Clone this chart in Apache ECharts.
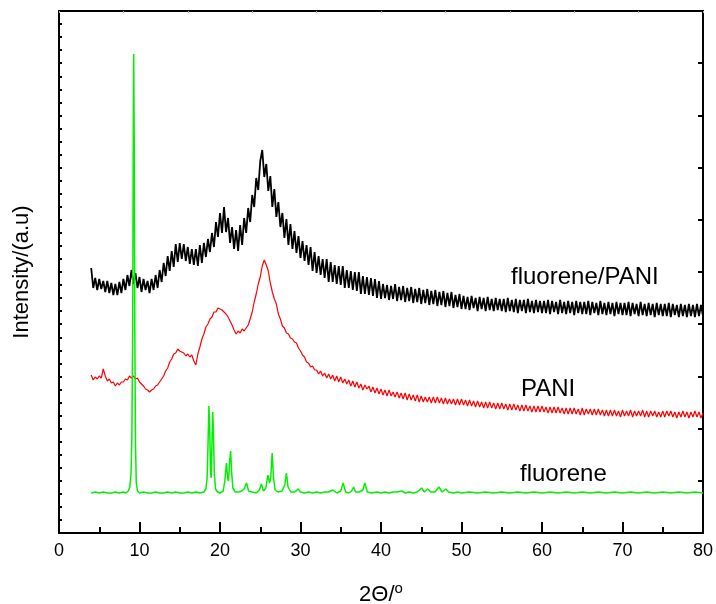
<!DOCTYPE html>
<html><head><meta charset="utf-8">
<script src="https://cdn.jsdelivr.net/npm/echarts@6/dist/echarts.min.js"></script>
<style>html,body{margin:0;padding:0;background:#fff}#c{width:716px;height:604px}</style>
</head><body><div id="c"></div>
<script>
// Sampling grid of the two noisy scans (degrees 2θ), 4 samples per degree
const X_START = 4, X_STEP = 0.25;

// fluorene/PANI composite (arbitrary intensity units), one row per degree
const compositeValues = [
265,245,255,243, 254,244,252,241, 252,240,250,238, 249,238,251,240, 254,243,258,247,
263,249,260,245, 256,241,254,243, 252,240,254,243, 258,245,263,251, 270,257,277,262,
282,266,289,271, 290,274,289,272, 286,269,284,268, 284,267,288,270, 290,276,294,281,
300,286,311,296, 320,300,326,301, 315,290,306,284, 303,282,308,288, 315,300,325,311,
338,326,355,343, 372,383,356,369, 342,357,326,344, 316,331,306,320, 295,314,288,309,
284,302,280,297, 275,292,272,288, 268,286,262,281, 260,277,258,274, 255,274,251,271,
251,268,249,267, 248,267,245,263, 245,262,243,261, 242,261,239,257, 239,256,238,255,
237,254,235,252, 234,249,235,248, 233,247,234,249, 232,246,233,247, 231,245,232,246,
230,244,231,245, 229,243,230,244, 228,242,229,243, 227,241,228,242, 226,240,227,241,
225,238,226,239, 224,237,224,236, 223,237,225,235, 222,236,224,235, 222,236,223,234,
222,235,223,234, 222,234,221,235, 222,233,221,234, 220,233,222,233, 220,234,221,232,
220,233,221,232, 220,232,220,233, 219,232,221,231, 219,233,220,231, 219,232,220,231,
218,232,220,231, 219,231,219,232, 218,231,220,230, 218,232,219,230, 218,231,219,230,
217,231,219,230, 218,230,218,231, 217,230,219,229, 217,231,218,229, 217,230,218,229,
216,230,218,229, 217,229,217,230, 216,229,218,228, 216,229,217,228, 216,229,217,228,
216,229,217,228, 217
];

// PANI, one row per degree
const paniValues = [
158,153,156,154, 157,155,164,157, 152,154,150,151, 147,150,148,151, 151,154,153,157,
155,157,154,155, 151,149,147,144, 143,141,143,144, 147,148,151,154, 157,162,165,171,
174,179,180,184, 182,181,180,177, 179,176,178,172, 168,179,186,194, 199,206,209,214,
216,221,221,225, 224,223,221,219, 216,212,208,203, 199,202,200,204, 202,205,208,214,
221,231,239,249, 256,267,273,268, 262,250,241,234, 229,219,214,207, 205,200,199,195,
194,191,190,185, 182,178,176,171, 170,166,167,163, 163,159,162,157, 160,155,159,154,
158,152,157,151, 156,150,154,149, 153,147,152,146, 151,145,149,143, 148,144,147,141,
146,140,145,139, 144,138,143,137, 143,137,141,136, 141,135,140,134, 140,133,139,133,
138,132,138,131, 137,131,136,131, 136,130,136,130, 136,130,135,129, 135,129,134,129,
134,128,134,128, 134,128,133,127, 133,127,132,126, 132,126,131,125, 131,125,131,125,
130,124,130,124, 130,124,129,123, 129,123,129,123, 128,122,128,122, 128,122,127,121,
127,121,127,121, 127,121,126,120, 126,120,126,120, 126,120,125,119, 125,119,125,119,
125,119,124,118, 125,118,124,119, 124,118,124,118, 124,118,123,117, 123,117,123,117,
123,117,122,116, 123,117,122,117, 123,116,122,117, 122,117,123,116, 122,116,122,117,
122,116,121,116, 122,116,122,117, 122,116,121,115, 121,116,122,116, 121,115,121,116,
122,116,121,115, 120
];

// fluorene (2θ, intensity)
const fluoreneData = [
[4,40],[4.5,41],[5,40],[5.5,41],[6,40],[6.5,40],[7,41],[7.5,40],[8,41],[8.3,40],[8.6,42],[8.8,46],[8.95,60],[9.05,95],[9.15,200],[9.22,380],[9.28,479],[9.34,400],[9.42,200],[9.5,90],[9.6,50],[9.75,42],
[10,40],[10.5,41],[11,40],[11.5,40],[12,41],[12.5,40],[13,40],[13.5,41],[14,40],[14.5,41],[15,40],[15.5,40],[16,41],[16.5,40],[17,41],[17.5,40],[18,41],
[18.25,44],[18.4,55],[18.5,85],[18.62,127],[18.72,105],[18.82,62],[18.9,55],[19.0,90],[19.1,121],[19.2,95],[19.3,58],[19.45,44],[19.7,41],
[20,40],[20.4,42],[20.6,52],[20.8,70],[20.95,55],[21.05,52],[21.2,72],[21.32,82],[21.45,60],[21.6,45],[21.9,41],[22.3,41],[22.7,42],[23.0,44],[23.3,50],[23.55,42],
[24,41],[24.5,40],[24.9,43],[25.15,49],[25.4,42],[25.7,45],[25.95,58],[26.15,50],[26.3,55],[26.48,80],[26.65,55],[26.85,43],[27.2,41],[27.7,42],[28.05,48],[28.25,60],[28.45,46],[28.8,41],[29.3,41],[29.7,44],
[30,41],[30.5,40],[31,41],[31.5,40],[32,41],[32.5,40],[33,41],[33.5,41],[34,43],[34.5,40],[35,42],[35.3,50],[35.6,41],[36,40],[36.35,42],[36.6,46],[36.85,41],[37.3,41],[37.75,43],[38.0,50],[38.3,41],[38.8,40],[39.5,41],
[40,40],[40.5,41],[41,40],[41.5,41],[42,41],[42.6,42],[43,40],[43.5,41],[44,40],[44.5,41],[45.05,45],[45.4,41],[45.8,44],[46.2,41],[46.7,41],[47.2,46],[47.6,41],[48.05,44],[48.4,41],[49,40],[49.5,41],
[50,40],[51,41],[52,40],[53,41],[54,40],[55,41],[56,40],[57,41],[58,40],[59,41],[60,40],[61,41],[62,40],[63,41],[64,40],[65,41],[66,40],[67,41],[68,40],[69,41],[70,40],[71,41],[72,40],[73,41],[74,40],[75,41],[76,40],[77,41],[78,40],[79,41],[80,40]
];

const xLabels = ['0','10','20','30','40','50','60','70','80'];
const seriesNames = ['fluorene/PANI', 'PANI', 'fluorene'];
const xTitle = '2Θ/{s|o}';
const yTitle = 'Intensity/(a.u)';

function toPairs(vals) { return vals.map((v, i) => [X_START + i * X_STEP, v]); }

const FONT = '"Liberation Sans", Arial, sans-serif';
const axisLine = { show: true, onZero: false, lineStyle: { color: '#000', width: 2 } };

const chart = echarts.init(document.getElementById('c'), null, { renderer: 'canvas' });
chart.setOption({
  animation: false,
  backgroundColor: '#fff',
  textStyle: { fontFamily: FONT },
  grid: { left: 59, right: 13, top: 11, bottom: 71, containLabel: false, outerBoundsMode: 'none' },
  xAxis: [
    {
      type: 'value', min: 0, max: 80, interval: 10, position: 'bottom',
      axisLine: axisLine,
      axisTick: { show: true, inside: true, length: 11, lineStyle: { color: '#000', width: 2 } },
      minorTick: { show: true, splitNumber: 2, length: 6, lineStyle: { color: '#000', width: 2 } },
      splitLine: { show: false },
      axisLabel: { fontSize: 18, color: '#000', margin: 9, fontFamily: FONT,
        formatter: (v) => xLabels[Math.round(v / 10)] },
      name: xTitle, nameLocation: 'middle', nameGap: 48,
      nameTextStyle: { fontSize: 22, color: '#000', fontFamily: FONT,
        rich: { s: { fontSize: 15, color: '#000', fontFamily: FONT, verticalAlign: 'top', padding: [0, 0, 12, 0] } } }
    },
    {
      type: 'value', min: 0, max: 80, interval: 8, position: 'top',
      axisLine: axisLine,
      axisTick: { show: true, inside: true, length: 2, lineStyle: { color: '#aaa', width: 1 } },
      axisLabel: { show: false }, splitLine: { show: false }
    }
  ],
  yAxis: [
    {
      type: 'value', min: 0, max: 522, interval: 52.2, position: 'left',
      axisLine: axisLine,
      axisTick: { show: true, inside: true, length: 3, lineStyle: { color: '#000', width: 2 } },
      minorTick: { show: true, splitNumber: 4, length: 3, lineStyle: { color: '#000', width: 2 } },
      axisLabel: { show: false }, splitLine: { show: false },
      name: yTitle, nameLocation: 'middle', nameGap: 26, nameRotate: 90,
      nameTextStyle: { fontSize: 22, color: '#000', fontFamily: FONT }
    },
    {
      type: 'value', min: 0, max: 522, interval: 52.2, position: 'right',
      axisLine: axisLine,
      axisTick: { show: true, inside: true, length: 5, lineStyle: { color: '#000', width: 2 } },
      axisLabel: { show: false }, splitLine: { show: false }
    }
  ],
  series: [
    { name: seriesNames[0], type: 'line', data: toPairs(compositeValues), showSymbol: false,
      lineStyle: { color: '#000', width: 1.8 }, itemStyle: { color: '#000' } },
    { name: seriesNames[1], type: 'line', data: toPairs(paniValues), showSymbol: false,
      lineStyle: { color: '#ff0000', width: 1.2 }, itemStyle: { color: '#ff0000' } },
    { name: seriesNames[2], type: 'line', data: fluoreneData, showSymbol: false,
      lineStyle: { color: '#00f000', width: 1.5 }, itemStyle: { color: '#00f000' } }
  ],
  graphic: [
    { type: 'text', x: 511, y: 277, style: { text: seriesNames[0], font: '24px ' + FONT, fill: '#000', align: 'left', verticalAlign: 'middle' } },
    { type: 'text', x: 521, y: 389, style: { text: seriesNames[1], font: '24px ' + FONT, fill: '#000', align: 'left', verticalAlign: 'middle' } },
    { type: 'text', x: 520, y: 474, style: { text: seriesNames[2], font: '24px ' + FONT, fill: '#000', align: 'left', verticalAlign: 'middle' } }
  ]
});
</script>
</body></html>
